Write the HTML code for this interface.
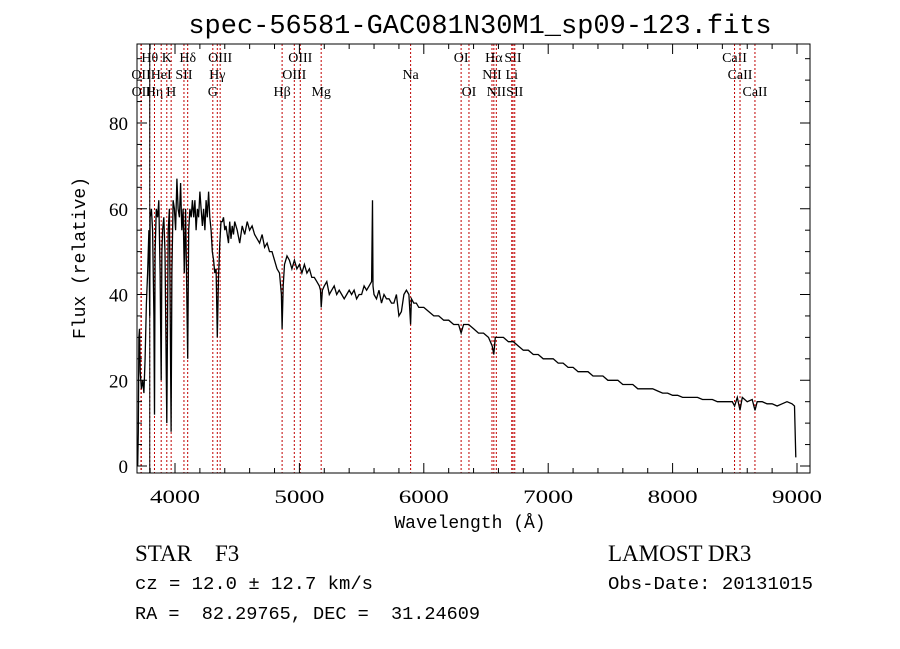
<!DOCTYPE html>
<html><head><meta charset="utf-8"><style>
body{margin:0;background:#fff;}
svg{display:block;}
text{font-family:"Liberation Serif",serif;fill:#000;white-space:pre;}
.mono{font-family:"Liberation Mono",monospace;}
</style></head><body>
<svg id="chart" width="900" height="649" viewBox="0 0 900 649" xmlns="http://www.w3.org/2000/svg" xml:space="preserve">
<rect width="900" height="649" fill="#fff"/>
<text x="480" y="33" font-size="27" text-anchor="middle" class="mono">spec-56581-GAC081N30M1_sp09-123.fits</text>
<g id="lines"></g>
<g id="plot"></g>
<rect x="137" y="44" width="673" height="429" fill="none" stroke="#000" stroke-width="1"/>
<g id="axes"></g>
<text x="470" y="528" font-size="18" text-anchor="middle" class="mono">Wavelength (Å)</text>
<text transform="translate(85,258) rotate(-90)" font-size="18" text-anchor="middle" class="mono">Flux (relative)</text>
<text x="135" y="561" font-size="23">STAR    F3</text>
<text x="608" y="561" font-size="23">LAMOST DR3</text>
<text x="135" y="589" font-size="18" textLength="238" lengthAdjust="spacingAndGlyphs" class="mono">cz = 12.0 ± 12.7 km/s</text>
<text x="608" y="589" font-size="18" textLength="205" lengthAdjust="spacingAndGlyphs" class="mono">Obs-Date: 20131015</text>
<text x="135" y="619" font-size="18" textLength="345" lengthAdjust="spacingAndGlyphs" class="mono">RA =  82.29765, DEC =  31.24609</text>
</svg>
<script>
const wavelengths=[3700,3705,3710,3715,3720,3730,3740,3750,3760,3770,3780,3790,3797,3800,3810,3820,3830,3835,3840,3850,3860,3870,3880,3889,3895,3900,3910,3920,3934,3945,3955,3969,3975,3985,3995,4005,4015,4025,4035,4045,4055,4065,4075,4085,4102,4110,4120,4130,4140,4150,4160,4170,4180,4190,4200,4210,4220,4230,4240,4250,4260,4270,4280,4290,4300,4310,4320,4330,4340,4350,4360,4370,4380,4390,4400,4410,4420,4430,4440,4450,4460,4470,4480,4500,4520,4540,4560,4580,4600,4620,4640,4660,4680,4700,4720,4740,4760,4780,4800,4820,4840,4855,4861,4870,4880,4900,4920,4940,4960,4980,5000,5020,5040,5060,5080,5100,5120,5140,5160,5170,5175,5185,5200,5220,5240,5260,5280,5300,5320,5340,5360,5380,5400,5420,5440,5460,5480,5500,5520,5540,5560,5580,5588,5592,5600,5620,5640,5660,5680,5700,5720,5740,5760,5780,5800,5820,5840,5860,5880,5894,5900,5920,5940,5960,6000,6040,6080,6120,6160,6200,6240,6280,6300,6320,6360,6400,6440,6480,6520,6550,6563,6575,6600,6640,6680,6720,6760,6800,6840,6880,6920,6960,7000,7040,7080,7120,7160,7200,7240,7280,7320,7360,7400,7440,7480,7520,7560,7600,7640,7680,7720,7760,7800,7840,7880,7920,7960,8000,8040,8080,8120,8160,8200,8240,8280,8320,8360,8400,8440,8480,8498,8520,8542,8560,8600,8640,8662,8680,8720,8760,8800,8840,8880,8920,8960,8980,8990];
const fluxes=[0,8,30,32,22,18,20,17,25,38,45,55,35,58,60,55,35,12,50,60,58,62,45,20,50,55,58,50,10,55,60,8,45,62,60,55,67,60,58,66,55,60,45,60,25,55,60,58,62,58,62,55,60,58,64,60,56,60,55,62,58,64,58,55,50,48,45,46,30,44,52,57,57,58,55,56,54,52,57,53,56,54,57,55,52,56,54,57,55,56,54,53,52,54,51,52,50,50,48,46,45,40,32,42,47,49,48,46,48,46,47,45,47,45,46,44,44,43,42,41,37,41,42,43,40,41,42,40,41,40,39,40,41,40,41,39,40,40,42,41,42,43,62,42,40,39,41,38,40,39,39,38,38,40,35,36,40,41,40,33,39,38,38,37,37,36,35,35,34,34,33,33,31,33,33,32,31,31,30,28,26,30,30,30,29,29,28,27,27,26,26,25,25,25,24,24,23,23,22,22,22,21,21,21,20,20,20,19,19,19,18,18,18,18,17.5,17,17,16.5,16.5,16,16,16,16,15.5,15.5,15.5,15,15,15,15,14,16,13,16,15,15.5,13,15,15,14.5,14.5,14,14.5,15,14.5,14,2];
const lineWaves=[3727,3729,3797,3835,3889,3934,3969,4072,4102,4304,4340,4363,4861,4959,5007,5175,5894,6300,6363,6548,6563,6583,6707,6717,6731,8498,8542,8662];
const lineLabels=["OII","OII","Hθ","Hη","HeI","K","H","SII","Hδ","G","Hγ","OIII","Hβ","OIII","OIII","Mg","Na","OI","OI","NII","Hα","NII","Li","SII","SII","CaII","CaII","CaII"];
const lineRows=[1,2,0,2,1,0,2,1,0,2,1,0,2,1,0,2,1,0,2,1,0,2,1,0,2,0,1,2];
const xTicks=[4000,5000,6000,7000,8000,9000];
const yTicks=[0,20,40,60,80];
const NS="http://www.w3.org/2000/svg";
const L=137,R=810,T=44,B=473;
function xs(w){return 175+(w-4000)*0.1244;}
function ys(f){return 466-f*4.2875;}
function mk(t,a,p){const e=document.createElementNS(NS,t);for(const k in a)e.setAttribute(k,a[k]);p.appendChild(e);return e;}
const gl=document.getElementById('lines');
lineWaves.forEach((w,i)=>{
  const x=xs(w);
  const ln=mk('line',{x1:x,x2:x,y1:T,y2:B,stroke:'#c00000','stroke-width':1,'stroke-dasharray':'2,2'},gl);
  
  
  const t=mk('text',{x:x,y:62+lineRows[i]*17,'font-size':14,'text-anchor':'middle'},gl);
  t.textContent=lineLabels[i];
  
  
});
const gp=document.getElementById('plot');
const bl=mk('line',{x1:xs(3797),x2:xs(3797),y1:T,y2:B,stroke:'#000','stroke-width':1},gp);


let d='';
wavelengths.forEach((w,i)=>{d+=(i?'L':'M')+xs(w).toFixed(1)+','+ys(fluxes[i]).toFixed(1);});
const path=mk('path',{d:d,fill:'none',stroke:'#000','stroke-width':1.3,'stroke-linejoin':'miter'},gp);


const ga=document.getElementById('axes');
for(let w=3800;w<=9100;w+=200){
  const x=xs(w),maj=(w%1000===0),len=maj?10:5;
  const a=mk('line',{x1:x,x2:x,y1:B,y2:B-len,stroke:'#000'},ga);
  
  
  const b=mk('line',{x1:x,x2:x,y1:T,y2:T+len,stroke:'#000'},ga);
  
  
}
xTicks.forEach(w=>{
  const t=mk('text',{x:xs(w),y:503,'font-size':19,'text-anchor':'middle',textLength:50,lengthAdjust:'spacingAndGlyphs'},ga);
  t.textContent=w;
  
  
});
for(let f=0;f<=95;f+=5){
  const y=ys(f),maj=(f%20===0),len=maj?10:5;
  const a=mk('line',{x1:L,x2:L+len,y1:y,y2:y,stroke:'#000'},ga);
  
  
  const b=mk('line',{x1:R,x2:R-len,y1:y,y2:y,stroke:'#000'},ga);
  
  
}
yTicks.forEach(f=>{
  const t=mk('text',{x:128,y:ys(f)+7,'font-size':19,'text-anchor':'end'},ga);
  t.textContent=f;
  
  
});
</script>
</body></html>
